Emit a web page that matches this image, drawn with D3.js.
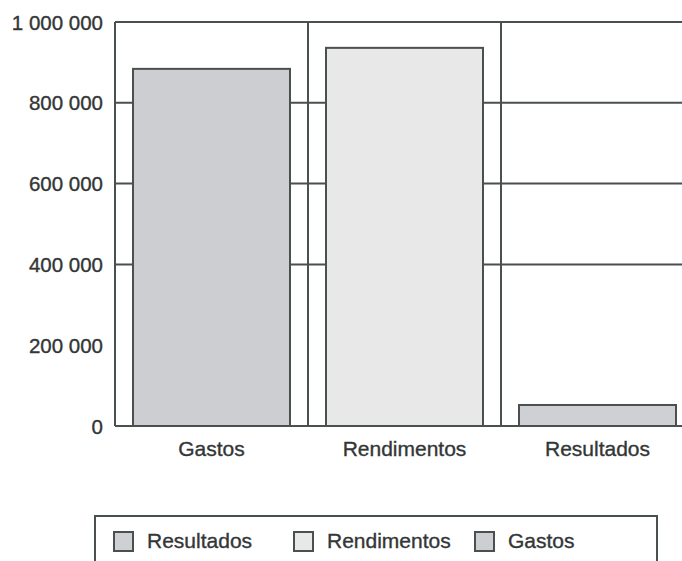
<!DOCTYPE html>
<html>
<head>
<meta charset="utf-8">
<script src="https://cdn.jsdelivr.net/npm/d3@7"></script>
<style>
  body { margin: 0; background: #fff; }
  text { font-family: "Liberation Sans", Arial, sans-serif; fill: #333636; stroke: #333636; stroke-width: 0.35; }
</style>
</head>
<body>
<div id="graphArea"></div>
<script>
const categories = ["Gastos", "Rendimentos", "Resultados"];
const values = [884000, 936000, 52000];
const barColors = ["#cdced2", "#e8e8e8", "#cfd0d4"];
const yTicks = [0, 200000, 400000, 600000, 800000, 1000000];
const gridTicks = [400000, 600000, 800000, 1000000];
const legendItems = ["Resultados", "Rendimentos", "Gastos"];
const legendColors = ["#cfd0d4", "#e8e8e8", "#cdced2"];

const width = 682, height = 561;
const stroke = "#4a4f4f";
const plotLeft = 115, plotTop = 22, plotBottom = 426;

const svg = d3.select("#graphArea").append("svg")
  .attr("width", width).attr("height", height);

// bands are 193px wide, the third one runs off the right edge
const x = d3.scaleBand().domain(categories).range([plotLeft, plotLeft + 3 * 193]).paddingInner(0).paddingOuter(0);
const y = d3.scaleLinear().domain([0, 1000000]).range([plotBottom, plotTop]);
const pad = 18;

// gridlines
svg.append("g").selectAll("line").data(gridTicks).join("line")
  .attr("x1", plotLeft).attr("x2", width)
  .attr("y1", d => y(d)).attr("y2", d => y(d))
  .attr("stroke", stroke).attr("stroke-width", 2);

// category separators
svg.append("g").selectAll("line").data(categories.slice(1)).join("line")
  .attr("x1", d => x(d)).attr("x2", d => x(d))
  .attr("y1", plotTop).attr("y2", plotBottom)
  .attr("stroke", stroke).attr("stroke-width", 2);

// bars
svg.append("g").selectAll("rect").data(values).join("rect")
  .attr("x", (d, i) => x(categories[i]) + pad)
  .attr("width", x.bandwidth() - 2 * pad)
  .attr("y", d => y(d))
  .attr("height", d => plotBottom - y(d))
  .attr("fill", (d, i) => barColors[i])
  .attr("stroke", stroke).attr("stroke-width", 2);

// axes lines
svg.append("line").attr("x1", plotLeft).attr("x2", plotLeft).attr("y1", plotTop).attr("y2", plotBottom)
  .attr("stroke", stroke).attr("stroke-width", 2);
svg.append("line").attr("x1", plotLeft).attr("x2", width).attr("y1", plotBottom).attr("y2", plotBottom)
  .attr("stroke", stroke).attr("stroke-width", 2);

// y tick labels
const fmt = d => d3.format(",")(d).replace(/,/g, " ");
svg.append("g").selectAll("text").data(yTicks).join("text")
  .attr("x", 103).attr("y", d => y(d) + 7.5)
  .attr("text-anchor", "end")
  .attr("font-size", 20.5)
  .text(fmt);

// x labels
svg.append("g").selectAll("text").data(categories).join("text")
  .attr("x", d => x(d) + x.bandwidth() / 2)
  .attr("y", 456)
  .attr("text-anchor", "middle")
  .attr("font-size", 21)
  .text(d => d);

// legend
svg.append("rect").attr("x", 95).attr("y", 516).attr("width", 562).attr("height", 60)
  .attr("fill", "none").attr("stroke", stroke).attr("stroke-width", 2);
const legendX = [114, 294, 475];
const lg = svg.append("g").selectAll("g").data(legendItems).join("g")
  .attr("transform", (d, i) => "translate(" + legendX[i] + ",532)");
lg.append("rect").attr("width", 19).attr("height", 19)
  .attr("fill", (d, i) => legendColors[i])
  .attr("stroke", stroke).attr("stroke-width", 2);
lg.append("text").attr("x", 33).attr("y", 16)
  .attr("font-size", 21)
  .text(d => d);
</script>
</body>
</html>
